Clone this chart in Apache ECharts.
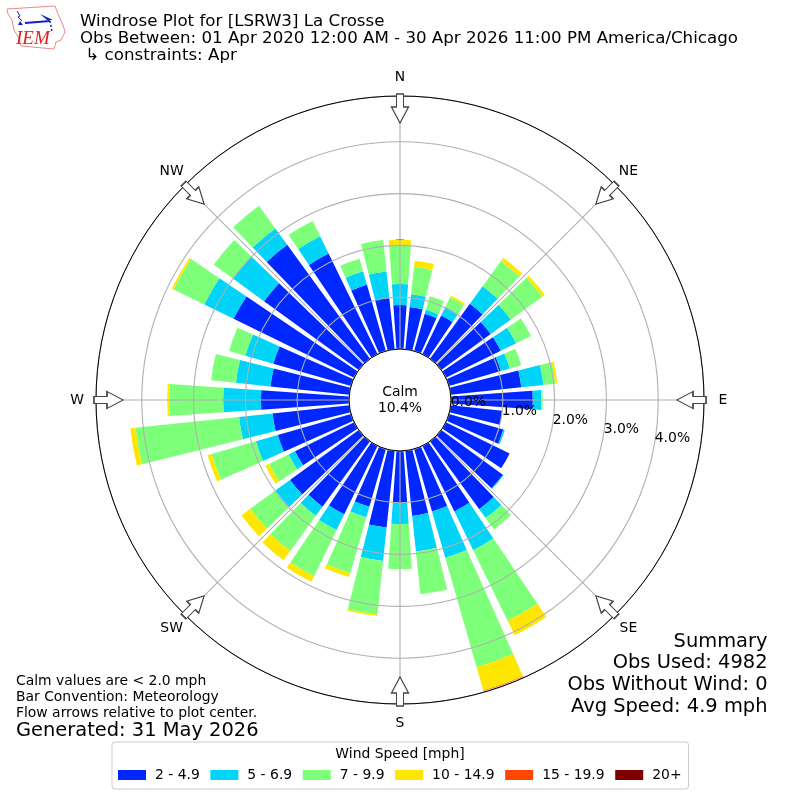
<!DOCTYPE html>
<html><head><meta charset="utf-8">
<style>html,body{margin:0;padding:0;background:#fff}#c{width:800px;height:800px}</style>
<script src="https://cdn.jsdelivr.net/npm/echarts@6/dist/echarts.min.js"></script>
</head><body><div id="c"></div>
<script>
const directions = [0,10,20,30,40,50,60,70,80,90,100,110,120,130,140,150,160,170,180,190,200,210,220,230,240,250,260,270,280,290,300,310,320,330,340,350];
const speed2to5 = [.85,.82,.75,.83,1.31,1.18,1.18,1.04,1.37,1.58,1.0,1.09,1.37,1.47,1.62,1.41,1.255,1.265,1.0,1.49,1.16,1.47,1.56,1.64,1.27,1.47,1.49,1.70,1.53,1.56,2.59,2.26,2.72,2.16,1.33,1.0];
const speed5to7 = [.405,.25,.08,.19,.42,.48,.33,.18,.43,.17,0,.03,0,.02,.21,.83,.93,.69,.41,.65,.21,.34,.22,.35,.14,.44,.65,.73,.67,.56,.63,.75,.39,.37,.27,.51];
const speed7to10 = [.755,.53,.27,.2,.6,.75,.32,.23,.23,.02,0,0,0,0,.27,1.52,2.2,.83,.87,1.04,1.12,.99,.84,.60,.42,.89,2.01,1.04,.48,.33,.66,.45,.54,.33,.25,.61];
const speed10to15 = [.097,.12,0,.04,.08,.06,0,0,.04,0,0,0,0,0,0,.31,.47,0,0,.03,.08,.12,.22,.21,.08,.08,.10,.04,0,0,.04,0,0,0,0,0];
const speed15to20 = [0,0,0,0,0,0,0,0,0,0,0,0,0,0,0,0,.01,0,0,0,0,0,0,0,0,0,0,0,0,0,0,0,0,0,0,0];
const speed20plus = [0,0,0,0,0,0,0,0,0,0,0,0,0,0,0,0,0,0,0,0,0,0,0,0,0,0,0,0,0,0,0,0,0,0,0,0];
const speedNames = ['2 - 4.9','5 - 6.9','7 - 9.9','10 - 14.9','15 - 19.9','20+'];
const speedColors = ['#0027ff','#00d4f8','#7dff7a','#ffe600','#ff4700','#800000'];
const compassAngles = [0,45,90,135,180,225,270,315];
const compassNames = ['N','NE','E','SE','S','SW','W','NW'];
const radiusTicks = [0,1,2,3,4];
const titleLines = ['Windrose Plot for [LSRW3] La Crosse','Obs Between: 01 Apr 2020 12:00 AM - 30 Apr 2026 11:00 PM America/Chicago',' \u21b3 constraints: Apr'];
const summaryLines = ['Summary','Obs Used: 4982','Obs Without Wind: 0','Avg Speed: 4.9 mph'];
const noteLines = ['Calm values are < 2.0 mph','Bar Convention: Meteorology','Flow arrows relative to plot center.'];
const generatedText = 'Generated: 31 May 2026';
const calmText = ['Calm','10.4%'];

const FONT = 'DejaVu Sans';
const RMAX = 4.884, ARROW_R = 4.643, COMPASS_R = 5.25;
const ARROW = 'path://M-3.5 0L3.5 0L3.5 13L8.5 13L0 29L-8.5 13L-3.5 13Z';
const seriesData = [speed2to5,speed5to7,speed7to10,speed10to15,speed15to20,speed20plus];

function txt(x,y,text,size,align){
  return {type:'text',x,y,silent:true,z:20,style:{text,fill:'#000',font:size+'px "'+FONT+'"',textAlign:align||'left',textVerticalAlign:'middle'}};
}
const graphics = [];
[22,38.5,56].forEach((y,i)=>graphics.push(txt(80,y,titleLines[i],16.67)));
[641.5,663,684.5,706.5].forEach((y,i)=>graphics.push(txt(767.5,y,summaryLines[i],19.44,'right')));
[681,697.5,713].forEach((y,i)=>graphics.push(txt(16,y,noteLines[i],13.9)));
graphics.push(txt(16,731,generatedText,19.44));
graphics.push(txt(400,392,calmText[0],13.9,'center'));
graphics.push(txt(400,408,calmText[1],13.9,'center'));
graphics.push(txt(400,754,'Wind Speed [mph]',13.9,'center'));
// logo
const logoBlue = '#1122cc';
graphics.push({type:'polyline',silent:true,shape:{points:[[7,9],[55,6],[58,14],[63,25],[65,32],[61,40],[56,42],[54,49],[21,46],[19,38],[14,30],[12,20],[8,14],[7,9]]},style:{stroke:'#e88',fill:'#fff',lineWidth:1}});
graphics.push({type:'polyline',silent:true,shape:{points:[[25,23],[50,21]]},style:{stroke:logoBlue,fill:'none',lineWidth:2}});
graphics.push({type:'polyline',silent:true,shape:{points:[[17,11],[20,16],[18,17],[22,21]]},style:{stroke:logoBlue,fill:'none',lineWidth:1}});
graphics.push({type:'polygon',silent:true,shape:{points:[[40,14],[53,20],[47,20]]},style:{fill:logoBlue}});
graphics.push({type:'polygon',silent:true,shape:{points:[[20,21],[23,25],[18,25]]},style:{fill:logoBlue}});
graphics.push({type:'polyline',silent:true,shape:{points:[[50,21],[52,32]]},style:{stroke:logoBlue,fill:'none',lineWidth:1.5,lineDash:[2,2]}});
graphics.push({type:'text',x:16,y:29,silent:true,style:{text:'IEM',fill:'#d22',font:'italic 19px "Liberation Serif"'}});

const option = {
  animation:false,
  backgroundColor:'#fff',
  textStyle:{fontFamily:FONT},
  graphic:graphics,
  legend:{
    left:112, top:742, orient:'horizontal',
    padding:[26,7,7,6], itemGap:10.6, itemWidth:28, itemHeight:10, icon:'rect',
    borderColor:'#ccc', borderWidth:1, borderRadius:3,
    textStyle:{fontFamily:FONT,fontSize:13.9,color:'#000',padding:[0,0,0,4]},
    data:speedNames, selectedMode:false
  },
  polar:[
    {center:[400,400],radius:[51,304]},
    {center:[400,400],radius:[51,304]}
  ],
  angleAxis:[
    {polarIndex:0,type:'category',data:directions,startAngle:95,clockwise:true,boundaryGap:true,
      axisLine:{show:false},axisTick:{show:false},axisLabel:{show:false},splitLine:{show:false}},
    {polarIndex:1,type:'value',min:0,max:360,interval:45,startAngle:90,clockwise:true,z:4,
      axisLine:{show:true,lineStyle:{color:'#000',width:1}},axisTick:{show:false},
      axisLabel:{show:false},
      splitLine:{show:true,lineStyle:{color:'#b0b0b0',width:1.1}}}
  ],
  radiusAxis:[
    {polarIndex:0,type:'value',min:0,max:RMAX,axisLine:{show:false},axisTick:{show:false},axisLabel:{show:false},splitLine:{show:false}},
    {polarIndex:1,type:'value',min:0,max:RMAX,interval:1,z:3,axisLine:{show:false},axisTick:{show:false},axisLabel:{show:false},
      splitLine:{show:true,lineStyle:{color:'#b0b0b0',width:1.1}}}
  ],
  series:[
    ...speedNames.map((name,i)=>({
      name,type:'bar',coordinateSystem:'polar',polarIndex:0,stack:'wind',barCategoryGap:'20%',
      itemStyle:{color:speedColors[i]},data:seriesData[i],z:2
    })),
    {name:'arrows',type:'scatter',coordinateSystem:'polar',polarIndex:1,z:6,silent:true,clip:false,
      symbol:ARROW,symbolSize:[17,29],
      itemStyle:{color:'#fff',borderColor:'#444',borderWidth:1.3,opacity:1},
      data:compassAngles.map(a=>({value:[ARROW_R,a],symbolRotate:-a}))},
    {name:'compass',type:'scatter',coordinateSystem:'polar',polarIndex:1,z:7,silent:true,clip:false,
      symbol:'circle',symbolSize:1,itemStyle:{color:'transparent',opacity:1},
      label:{show:true,position:'inside',color:'#000',fontFamily:FONT,fontSize:13.9,
        formatter:p=>compassNames[p.dataIndex]},
      data:compassAngles.map(a=>[COMPASS_R,a])},
    {name:'rlabels',type:'scatter',coordinateSystem:'polar',polarIndex:1,z:7,silent:true,clip:false,
      symbol:'circle',symbolSize:1,itemStyle:{color:'transparent',opacity:1},
      label:{show:true,position:'right',distance:0,offset:[0,-6],color:'#000',fontFamily:FONT,fontSize:13.9,
        formatter:p=>p.value[0].toFixed(1)+'%'},
      data:radiusTicks.map(r=>[r,100])}
  ]
};
const chart = echarts.init(document.getElementById('c'),null,{renderer:'canvas',width:800,height:800});
chart.setOption(option);
</script></body></html>
